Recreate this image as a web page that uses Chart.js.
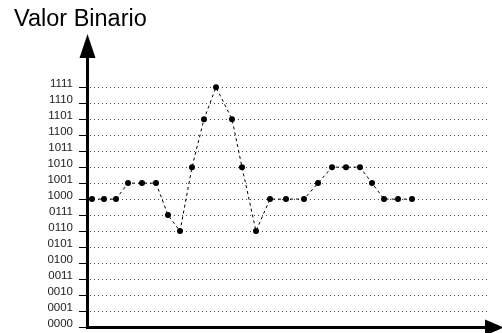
<!DOCTYPE html>
<html>
<head>
<meta charset="utf-8">
<title>Valor Binario</title>
<script src="https://cdn.jsdelivr.net/npm/chart.js@4"></script>
<style>
  html, body { margin: 0; padding: 0; background: #fff; }
  #wrap { width: 502px; height: 333px; }
</style>
</head>
<body>
<div id="wrap"><canvas id="grafico" width="502" height="333"></canvas></div>
<script>
// posiciones en el eje horizontal
const tiempos = [5, 17, 29, 41, 55, 69, 81, 93, 105, 117, 129, 145, 155, 169, 183, 199, 217, 231, 245, 259, 273, 285, 297, 311, 325];
// valor de cada muestra (nivel 0..15)
const valores = [8, 8, 8, 9, 9, 9, 7, 6, 10, 13, 15, 13, 10, 6, 8, 8, 8, 9, 10, 10, 10, 9, 8, 8, 8];
// etiquetas del eje vertical
const etiquetasY = ['0000', '0001', '0010', '0011', '0100', '0101', '0110', '0111',
                    '1000', '1001', '1010', '1011', '1100', '1101', '1110', '1111'];
const titulo = 'Valor Binario';

const fuente = "Arial, 'Liberation Sans', Helvetica, sans-serif";

// dibuja las flechas de los ejes
const flechas = {
    id: 'flechas',
    afterDraw(chart) {
        const ctx = chart.ctx;
        const area = chart.chartArea;
        const xEje = chart.scales.y._borderValue || area.left;
        const yEje = chart.scales.x._borderValue || area.bottom;
        ctx.save();
        ctx.fillStyle = '#000';
        ctx.strokeStyle = '#000';
        // prolongacion del eje vertical
        ctx.lineWidth = 3;
        ctx.beginPath();
        ctx.moveTo(xEje, area.top);
        ctx.lineTo(xEje, 56);
        ctx.stroke();
        // punta vertical
        ctx.beginPath();
        ctx.moveTo(xEje - 8, 58);
        ctx.lineTo(xEje + 8, 58);
        ctx.lineTo(xEje, 34);
        ctx.closePath();
        ctx.fill();
        // punta horizontal
        ctx.beginPath();
        ctx.moveTo(485, yEje - 8);
        ctx.lineTo(485, yEje + 8);
        ctx.lineTo(504, yEje);
        ctx.closePath();
        ctx.fill();
        ctx.restore();
    }
};

const puntos = tiempos.map((t, i) => ({ x: t, y: valores[i] }));

new Chart(document.getElementById('grafico'), {
    type: 'line',
    data: {
        datasets: [{
            data: puntos,
            borderColor: '#000',
            borderWidth: 1,
            borderDash: [3, 3],
            pointRadius: 3,
            pointBackgroundColor: '#000',
            pointBorderColor: '#000',
            pointBorderWidth: 0,
            tension: 0,
            fill: false,
            clip: false
        }]
    },
    options: {
        responsive: false,
        animation: false,
        events: [],
        layout: { padding: { left: 14, right: 12, top: 0, bottom: 6 } },
        plugins: {
            legend: { display: false },
            tooltip: { enabled: false },
            title: {
                display: true,
                text: titulo,
                align: 'start',
                color: '#000',
                font: { family: fuente, size: 23.5, weight: 'normal', lineHeight: 1.2 },
                padding: { top: 5, bottom: 54 }
            }
        },
        scales: {
            x: {
                type: 'linear',
                min: 0,
                max: 403,
                grid: { display: false },
                ticks: { display: false },
                border: { display: true, color: '#000', width: 3 },
                afterFit(scale) { scale.height = 0; }
            },
            y: {
                min: 0,
                max: 15,
                ticks: {
                    stepSize: 1,
                    autoSkip: false,
                    padding: 6,
                    labelOffset: -3,
                    color: '#222',
                    font: { family: fuente, size: 11.5 },
                    callback: (v) => etiquetasY[v]
                },
                grid: {
                    color: (c) => c.index === 0 ? 'rgba(0,0,0,0)' : '#444',
                    lineWidth: 1,
                    tickLength: 8,
                    tickColor: '#000',
                    tickBorderDash: []
                },
                border: { display: true, color: '#000', width: 3, dash: [1, 3], dashOffset: 3 },
                afterFit(scale) {
                    scale.width = 73;
                    scale.paddingTop = 0;
                    scale.paddingBottom = 0;
                }
            }
        }
    },
    plugins: [flechas]
});
</script>
</body>
</html>
